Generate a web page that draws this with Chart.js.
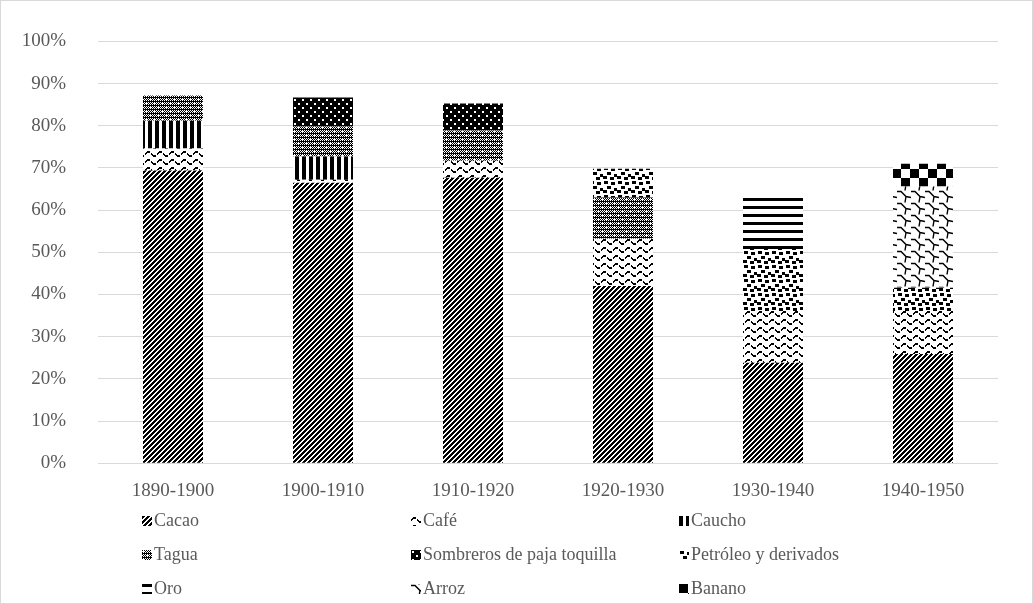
<!DOCTYPE html>
<html>
<head>
<meta charset="utf-8">
<script src="https://cdn.jsdelivr.net/npm/chart.js@4"></script>
<style>
  html, body { margin: 0; padding: 0; background: #fff; }
  #wrap { position: relative; width: 1033px; height: 604px; box-sizing: border-box; border: 1px solid #d9d9d9; overflow: hidden; }
  #chart { position: absolute; left: 0; top: -3px; }
  #legend { position: absolute; left: 0; top: 0; width: 1033px; height: 604px; pointer-events: none;
    font-family: "Liberation Serif", "Times New Roman", serif; font-size: 18px; color: #595959; }
  .item { position: absolute; display: flex; align-items: center; white-space: nowrap; }
  .item canvas { margin-right: 2px; }
</style>
</head>
<body>
<div id="wrap">
  <canvas id="chart" width="1031" height="605"></canvas>
  <div id="legend"></div>
</div>
<script>
const categories = ["1890-1900", "1900-1910", "1910-1920", "1920-1930", "1930-1940", "1940-1950"];
const seriesNames = ["Cacao", "Café", "Caucho", "Tagua", "Sombreros de paja toquilla", "Petróleo y derivados", "Oro", "Arroz", "Banano"];

// percent of exports, bottom to top of each bar
const cacao     = [69.4, 66.5, 67.7, 42.0, 23.8, 25.9];
const cafe      = [5.2, 0.7, 4.0, 11.2, 12.3, 10.2];
const caucho    = [6.6, 5.5, 0, 0, 0, 0];
const tagua     = [6.0, 7.1, 7.2, 9.8, 0, 0];
const sombreros = [0, 6.9, 6.4, 0, 0, 0];
const petroleo  = [0, 0, 0, 6.8, 14.7, 5.5];
const oro       = [0, 0, 0, 0, 12.9, 0];
const arroz     = [0, 0, 0, 0, 0, 24.0];
const banano    = [0, 0, 0, 0, 0, 5.4];

const yTicks = [0, 10, 20, 30, 40, 50, 60, 70, 80, 90, 100];

// tile helpers for the black and white fills
function tile(w, h, draw) {
  const c = document.createElement("canvas");
  c.width = w; c.height = h;
  const g = c.getContext("2d");
  g.fillStyle = "#fff";
  g.fillRect(0, 0, w, h);
  g.fillStyle = "#000";
  draw(g, w, h);
  return c;
}
function px(g, x, y, w = 1, h = 1) { g.fillRect(x, y, w, h); }

const tiles = [
  // Cacao: wide upward diagonal
  tile(5, 5, (g, w, h) => {
    for (let y = 0; y < h; y++) for (let x = 0; x < w; x++) if ((x + y) % 5 < 3) px(g, x, y);
  }),
  // Café: dashed waves
  tile(12, 8, (g, w) => {
    for (let x = 0; x < w; x++) {
      if (x % 6 === 5) continue;
      const y = Math.round(3 - 2 * Math.sin((2 * Math.PI * x) / 12));
      px(g, x, y, 1, 2);
    }
  }),
  // Caucho: wide vertical stripes
  tile(7, 1, (g) => px(g, 0, 0, 4, 1)),
  // Tagua: fine checker with light spots
  tile(8, 8, (g, w, h) => {
    for (let y = 0; y < h; y++) for (let x = 0; x < w; x++) if ((x + y) % 2 === 0 || (y % 4 === 3 && x % 2 === 0)) px(g, x, y);
    g.fillStyle = "#fff";
    px(g, 1, 1, 2, 1); px(g, 5, 5, 2, 1);
  }),
  // Sombreros: black with white dots
  tile(8, 8, (g, w, h) => {
    px(g, 0, 0, w, h);
    g.fillStyle = "#fff";
    px(g, 1, 1, 2, 2); px(g, 5, 5, 2, 2);
  }),
  // Petróleo: large confetti
  tile(14, 14, (g) => {
    [[1, 1], [8, 2], [4, 6], [11, 8], [0, 10], [7, 11]].forEach(([x, y]) => px(g, x, y, 4, 3));
  }),
  // Oro: wide horizontal lines
  tile(1, 8, (g) => px(g, 0, 0, 1, 3)),
  // Arroz: shingle
  tile(14, 12, (g, w, h) => {
    g.strokeStyle = "#000";
    g.lineWidth = 1.4;
    for (const ox of [-w, 0, w]) for (const oy of [-h, 0, h]) {
      g.beginPath();
      g.moveTo(ox + 0, oy + 1.5);
      g.lineTo(ox + 4, oy + 1.5);
      g.lineTo(ox + 9, oy + 6.5);
      g.lineTo(ox + 14, oy + 7.5);
      g.moveTo(ox + 9, oy + 6.5);
      g.lineTo(ox + 8, oy + 12.5);
      g.stroke();
    }
  }),
  // Banano: large checkerboard
  tile(18, 18, (g) => { px(g, 0, 0, 9, 9); px(g, 9, 9, 9, 9); })
];

const ctx = document.getElementById("chart").getContext("2d");
const patterns = tiles.map((t) => ctx.createPattern(t, "repeat"));
const values = [cacao, cafe, caucho, tagua, sombreros, petroleo, oro, arroz, banano];

const chart = new Chart(ctx, {
  type: "bar",
  data: {
    labels: categories,
    datasets: seriesNames.map((name, i) => ({
      label: name,
      data: values[i],
      backgroundColor: patterns[i],
      borderWidth: 0,
      categoryPercentage: 1,
      barPercentage: 0.4
    }))
  },
  options: {
    responsive: false,
    animation: false,
    layout: { padding: { top: 27, right: 34, bottom: 93, left: 0 } },
    plugins: { legend: { display: false }, tooltip: { enabled: false } },
    scales: {
      x: {
        stacked: true,
        grid: { display: false },
        border: { display: false },
        ticks: { color: "#595959", padding: 8, font: { family: "Liberation Serif", size: 19 } }
      },
      y: {
        stacked: true,
        min: 0,
        max: 100,
        afterBuildTicks: (s) => { s.ticks = yTicks.map((v) => ({ value: v })); },
        afterFit: (s) => { s.width = 97; },
        grid: { color: "#d9d9d9", lineWidth: 1, drawTicks: false },
        border: { display: false },
        ticks: {
          color: "#595959",
          padding: 32,
          font: { family: "Liberation Serif", size: 19 },
          callback: (v) => v + "%"
        }
      }
    }
  }
});

// legend, three columns like the original
const legend = document.getElementById("legend");
const colX = [141, 410, 678];
const rowY = [509, 543, 577];
chart.data.datasets.forEach((ds, i) => {
  const item = document.createElement("div");
  item.className = "item";
  item.style.left = colX[i % 3] + "px";
  item.style.top = rowY[Math.floor(i / 3)] + "px";
  const icon = document.createElement("canvas");
  icon.width = 10; icon.height = 10;
  const ic = icon.getContext("2d");
  ic.fillStyle = ic.createPattern(tiles[i], "repeat");
  ic.fillRect(0, 0, 10, 10);
  item.appendChild(icon);
  item.appendChild(document.createTextNode(ds.label));
  legend.appendChild(item);
});
</script>
</body>
</html>
